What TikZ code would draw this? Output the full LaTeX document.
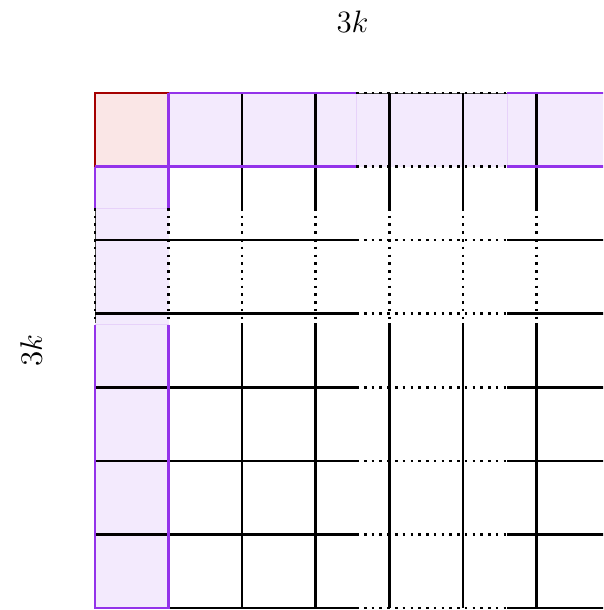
\documentclass[tikz,border=0pt]{standalone}
\definecolor{pborder}{RGB}{147,51,234}
\definecolor{pfill}{RGB}{243,234,253}
\definecolor{rborder}{RGB}{165,0,0}
\definecolor{rfill}{RGB}{250,230,230}
\begin{document}
\begin{tikzpicture}[line width=1pt,
  dotline/.style={black, dotted},
  pline/.style={pborder},
  rline/.style={rborder},
  seam/.style={pborder!22, line width=0.3pt},
  thinedge/.style={black!70, line width=0.25pt},
  lbl/.style={font=\large, inner sep=0pt}]
\def\ha{3.55}\def\hb{5.6}\def\va{1.5625}\def\vb{3.13}\def\vc{3.15}
\useasboundingbox (-1.2913,1.2641) rectangle (6.905,-7.027);
\clip (-1.2913,1.2641) rectangle (6.905,-7.027);
% fills
\fill[pfill] (1,0) rectangle (7,-1);
\fill[pfill] (0,-1) rectangle (1,-7);
\fill[rfill] (0,0) rectangle (1,-1);
% faint seams between fill pieces
\draw[seam] (\ha,0) -- (\ha,-1);
\draw[seam] (\hb,0) -- (\hb,-1);
\draw[seam] (0,-\va) -- (1,-\va);
\draw[seam] (0,-\vc) -- (1,-\vc);
% thin edges under dotted outer borders
\draw[thinedge] (\ha,0) -- (\hb,0);
\draw[thinedge] (0,-\va) -- (0,-\vb);
% black grid lines
\foreach \y in {2,...,6} {
  \draw (0,-\y) -- (\ha,-\y);
  \draw[dotline] (\ha,-\y) -- (\hb,-\y);
  \draw (\hb,-\y) -- (7,-\y);
}
\draw (1,-7) -- (\ha,-7);
\draw[dotline] (\ha,-7) -- (\hb,-7);
\draw (\hb,-7) -- (7,-7);
\foreach \x in {2,...,6} {
  \draw (\x,0) -- (\x,-\va);
  \draw[dotline] (\x,-\va) -- (\x,-\vb);
  \draw (\x,-\vb) -- (\x,-7);
}
% dotted parts of the highlighted borders
\draw[dotline] (\ha,0) -- (\hb,0);
\draw[dotline] (\ha,-1) -- (\hb,-1);
\draw[dotline] (0,-\va) -- (0,-\vb);
\draw[dotline] (1,-\va) -- (1,-\vb);
% red cell border
\draw[rline] (1,0) -- (0,0) -- (0,-1);
% purple borders
\draw[pline] (1,0) -- (\ha,0);
\draw[pline] (\hb,0) -- (7,0);
\draw[pline] (0,-1) -- (\ha,-1);
\draw[pline] (\hb,-1) -- (7,-1);
\draw[pline] (0,-1) -- (0,-\va);
\draw[pline] (1,0) -- (1,-\va);
\draw[pline] (0,-\vc) -- (0,-7) -- (1,-7) -- (1,-\vc);
% labels
\node[lbl] (toplabel) at (3.5,0.965) {$3k$};
\node[lbl, rotate=90] (leftlabel) at (-0.87,-3.5) {$3k$};
\end{tikzpicture}
\end{document}
